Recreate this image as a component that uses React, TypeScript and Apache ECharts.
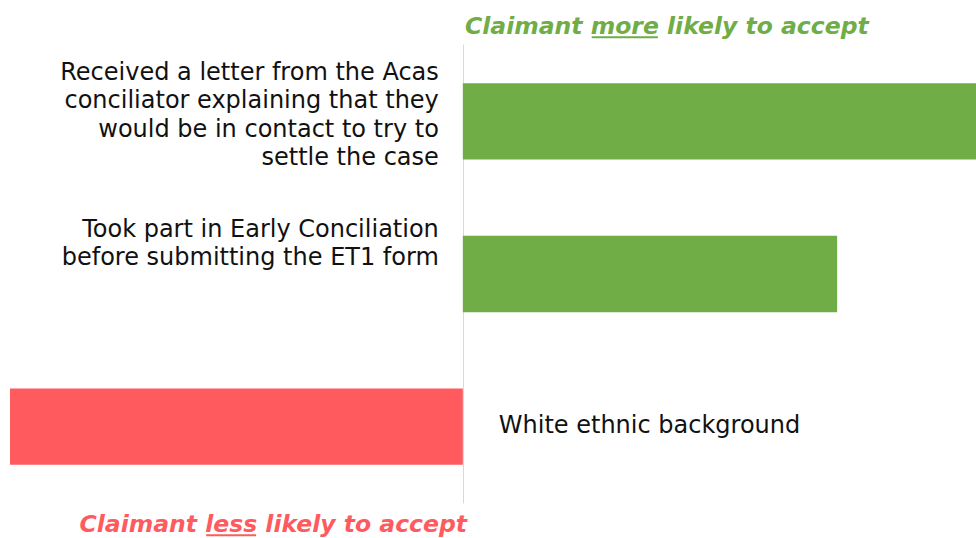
import React, { useEffect, useRef } from "react";
import * as echarts from "echarts";

const categories = [
  "Received a letter from the Acas\nconciliator explaining that they\nwould be in contact to try to\nsettle the case",
  "Took part in Early Conciliation\nbefore submitting the ET1 form",
  "White ethnic background",
];
const values = [0.51, 0.372, -0.45];
const labelLift = [7, 31, 2];
const xRange = [-0.45, 0.51];
const topTitle = ["Claimant ", "more", " likely to accept"];
const bottomTitle = ["Claimant ", "less", " likely to accept"];

const GREEN = "#70AD47";
const RED = "#FF5B5E";
const FONT = "'DejaVu Sans', Verdana, sans-serif";

function measure(text: string, font: string): number {
  const c = document.createElement("canvas").getContext("2d")!;
  c.font = font;
  return c.measureText(text).width;
}

function titleGroup(parts: string[], color: string, x: number, midY: number, alignRight: boolean) {
  const size = 23.5;
  const font = `italic bold ${size}px 'DejaVu Sans'`;
  const w = parts.map((p) => measure(p, font));
  const total = w[0] + w[1] + w[2];
  const x0 = alignRight ? x - total : x;
  const children: any[] = [];
  let cx = x0;
  parts.forEach((p, i) => {
    children.push({
      type: "text",
      x: cx,
      y: midY,
      style: {
        text: p,
        fill: color,
        font,
        align: "left",
        verticalAlign: "middle",
      },
    });
    cx += w[i];
  });
  const uy = midY + 0.35 * size + 3;
  children.push({
    type: "line",
    shape: { x1: x0 + w[0] + 1, y1: uy, x2: x0 + w[0] + w[1] - 1, y2: uy },
    style: { stroke: color, lineWidth: 2 },
  });
  return { type: "group", children };
}

export default function App() {
  const ref = useRef<HTMLDivElement>(null);
  useEffect(() => {
    const chart = echarts.init(ref.current!, undefined, { renderer: "svg" });
    chart.setOption({
      animation: false,
      grid: { left: 10, right: 0, top: 45, bottom: 35, containLabel: false, outerBoundsMode: "none" },
      xAxis: { type: "value", min: xRange[0], max: xRange[1], show: false },
      yAxis: {
        type: "category",
        inverse: true,
        data: categories,
        axisLine: { show: true, onZero: true, lineStyle: { color: "#D9D9D9", width: 1 } },
        axisTick: { show: false },
        splitLine: { show: false },
        axisLabel: { show: false },
      },
      series: [
        {
          type: "bar",
          barWidth: "50%",
          data: values.map((v, i) => ({
            value: v,
            itemStyle: { color: v >= 0 ? GREEN : RED },
            label: {
              show: true,
              position: v >= 0 ? "left" : "right",
              distance: v >= 0 ? 24 : 36,
              offset: [0, -labelLift[i]],
              align: v >= 0 ? "right" : "left",
            },
          })),
          label: {
            show: true,
            formatter: (p: any) => p.name,
            color: "#111111",
            fontFamily: FONT,
            fontSize: 24,
            lineHeight: 28.5,
          },
        },
      ],
      graphic: [
        titleGroup(topTitle, GREEN, 465, 26, false),
        titleGroup(bottomTitle, RED, 467, 524, true),
      ],
    });
    return () => chart.dispose();
  }, []);
  return <div ref={ref} style={{ width: 976, height: 538, position: "absolute", left: 0, top: 0 }} />;
}
